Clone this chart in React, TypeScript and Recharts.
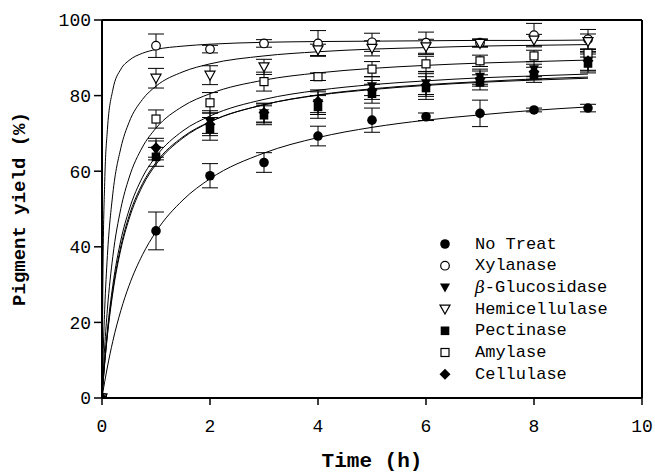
import React from 'react';
import {
  ComposedChart,
  Line,
  Scatter,
  XAxis,
  YAxis,
  ErrorBar,
  ReferenceLine,
} from 'recharts';

// measured points (h)
const hours = [0, 1, 2, 3, 4, 5, 6, 7, 8, 9];

const noTreat = [0, 44.2, 58.8, 62.3, 69.3, 73.5, 74.4, 75.3, 76.2, 76.7];
const noTreatErr = [0, 5, 3.2, 2.6, 2.6, 3.2, 1, 3.5, 0.5, 1];
const xylanase = [0, 93.2, 92.3, 93.8, 93.8, 94.1, 94, 94, 96, 94.9];
const xylanaseErr = [0, 3.1, 1, 1, 3.4, 2.4, 2.8, 1, 3.1, 2.6];
const glucosidase = [0, 65.5, 73, 75.3, 78, 82.5, 83.3, 85, 87, 89];
const glucosidaseErr = [0, 2.5, 3, 2.5, 3, 2.5, 3, 2, 2, 2.5];
const hemicellulase = [0, 84.6, 85.4, 87.6, 92.1, 92.5, 92.9, 93.8, 94.7, 94.3];
const hemicellulaseErr = [0, 2.6, 2.5, 2, 1.5, 2, 2, 1, 1.5, 2];
const pectinase = [0, 63.8, 71.2, 74.8, 77, 80.5, 82, 83.5, 85.5, 88.5];
const pectinaseErr = [0, 2.5, 3, 2.5, 3, 2.5, 3, 2, 2, 2.5];
const amylase = [0, 73.8, 78.1, 83.7, 85, 87, 88.4, 89.2, 90.5, 91.2];
const amylaseErr = [0, 2.4, 2.7, 2.5, 1, 2, 2, 1.5, 1.5, 1];
const cellulase = [0, 66.2, 72.4, 75.5, 78.5, 81.5, 82.8, 84.5, 86.3, 89.2];
const cellulaseErr = [0, 2.5, 3, 2.5, 3, 2.5, 3, 2, 2, 2.5];

// fitted curves
const fitHours = [0, 0.02, 0.05, 0.1, 0.2, 0.35, 0.5, 0.75, 1, 1.5, 2, 3, 4, 5, 6, 7, 8, 9];
const fitNoTreat = [0, 1.8, 4.3, 8.2, 15, 23.2, 29.7, 37.9, 44, 52.4, 58, 64.8, 68.9, 71.6, 73.5, 74.9, 76.1, 77];
const fitXylanase = [0, 36, 57, 71, 81.5, 87, 89.3, 91.2, 92.2, 93.1, 93.6, 94.1, 94.3, 94.4, 94.5, 94.6, 94.6, 94.7];
const fitGlucosidase = [0, 4.3, 9.9, 17.9, 29.8, 41.8, 49.7, 58.4, 63.9, 70.7, 74.6, 79, 81.4, 82.9, 83.9, 84.7, 85.2, 85.7];
const fitHemicellulase = [0, 11, 23.5, 37.7, 54, 66.2, 72.9, 79, 82.5, 86.3, 88.4, 90.5, 91.6, 92.3, 92.7, 93.1, 93.3, 93.5];
const fitPectinase = [0, 4, 9.4, 17, 28.5, 40.2, 48.1, 56.7, 62.3, 69.1, 73.1, 77.6, 80.1, 81.6, 82.7, 83.5, 84.1, 84.6];
const fitAmylase = [0, 5.9, 13.5, 23.5, 37.4, 50.2, 58.2, 66.4, 71.4, 77.2, 80.5, 84.1, 86, 87.2, 88, 88.6, 89, 89.4];
const fitCellulase = [0, 3.9, 9.1, 16.5, 27.8, 39.4, 47.3, 56.1, 61.8, 68.8, 73, 77.6, 80.2, 81.8, 82.9, 83.7, 84.4, 84.9];

const xTicks = [0, 2, 4, 6, 8, 10];
const yTicks = [0, 20, 40, 60, 80, 100];

const MONO = '"Liberation Mono", "Courier New", monospace';

type Kind = 'circle' | 'ocircle' | 'tri' | 'otri' | 'square' | 'osquare' | 'diamond';

const Marker = ({ cx, cy, kind }: { cx: number; cy: number; kind: Kind }) => {
  const s = 1.2;
  switch (kind) {
    case 'circle':
      return <circle cx={cx} cy={cy} r={4.8} fill="#000" />;
    case 'ocircle':
      return <circle cx={cx} cy={cy} r={4.3} fill="#fff" stroke="#000" strokeWidth={s} />;
    case 'tri':
      return <polygon points={`${cx - 5},${cy - 4} ${cx + 5},${cy - 4} ${cx},${cy + 5}`} fill="#000" />;
    case 'otri':
      return (
        <polygon
          points={`${cx - 5},${cy - 4} ${cx + 5},${cy - 4} ${cx},${cy + 5}`}
          fill="#fff"
          stroke="#000"
          strokeWidth={s}
        />
      );
    case 'square':
      return <rect x={cx - 4.3} y={cy - 4.3} width={8.6} height={8.6} fill="#000" />;
    case 'osquare':
      return <rect x={cx - 4} y={cy - 4} width={8} height={8} fill="#fff" stroke="#000" strokeWidth={s} />;
    case 'diamond':
      return <polygon points={`${cx},${cy - 5.5} ${cx + 5.5},${cy} ${cx},${cy + 5.5} ${cx - 5.5},${cy}`} fill="#000" />;
  }
  return null;
};

const series: { name: string; kind: Kind; vals: number[]; err: number[]; fit: number[] }[] = [
  { name: 'No Treat', kind: 'circle', vals: noTreat, err: noTreatErr, fit: fitNoTreat },
  { name: 'Xylanase', kind: 'ocircle', vals: xylanase, err: xylanaseErr, fit: fitXylanase },
  { name: 'β-Glucosidase', kind: 'tri', vals: glucosidase, err: glucosidaseErr, fit: fitGlucosidase },
  { name: 'Hemicellulase', kind: 'otri', vals: hemicellulase, err: hemicellulaseErr, fit: fitHemicellulase },
  { name: 'Pectinase', kind: 'square', vals: pectinase, err: pectinaseErr, fit: fitPectinase },
  { name: 'Amylase', kind: 'osquare', vals: amylase, err: amylaseErr, fit: fitAmylase },
  { name: 'Cellulase', kind: 'diamond', vals: cellulase, err: cellulaseErr, fit: fitCellulase },
];

const YTitle = (props: any) => {
  const vb = props.viewBox;
  const x = vb.x + 20;
  const y = vb.y + vb.height / 2;
  return (
    <text
      x={x}
      y={y}
      transform={`rotate(-90, ${x}, ${y})`}
      textAnchor="middle"
      dominantBaseline="central"
      fontFamily={MONO}
      fontWeight="bold"
      fontSize={19}
      fill="#000"
    >
      Pigment yield (%)
    </text>
  );
};

const XTitle = (props: any) => {
  const vb = props.viewBox;
  return (
    <text
      x={vb.x + vb.width / 2}
      y={467}
      textAnchor="middle"
      fontFamily={MONO}
      fontWeight="bold"
      fontSize={21}
      fill="#000"
    >
      Time (h)
    </text>
  );
};

const Legend = () => (
  <svg width={655} height={472} style={{ position: 'absolute', left: 0, top: 0, pointerEvents: 'none' }}>
    {series.map((s, i) => {
      const y = 244 + i * 21.7;
      return (
        <g key={s.name}>
          <Marker cx={445} cy={y} kind={s.kind} />
          <text x={475} y={y} dominantBaseline="central" fontFamily={MONO} fontSize={17} fill="#000">
            {s.name.startsWith('β') ? (
              <>
                <tspan fontFamily='"DejaVu Serif", serif' fontStyle="italic">
                  β
                </tspan>
                {s.name.slice(1)}
              </>
            ) : (
              s.name
            )}
          </text>
        </g>
      );
    })}
  </svg>
);

export default function App() {
  return (
    <div style={{ position: 'absolute', left: 0, top: 0, width: 655, height: 472, background: '#fff' }}>
      <ComposedChart width={655} height={472} margin={{ top: 20, right: 13, left: 0, bottom: 0 }}>
        <XAxis
          type="number"
          dataKey="x"
          domain={[0, 10]}
          ticks={xTicks}
          allowDataOverflow
          height={74}
          axisLine={{ stroke: '#000', strokeWidth: 2 }}
          tickLine={{ stroke: '#000', strokeWidth: 1.5 }}
          tickSize={7}
          tickMargin={14}
          tick={{ fill: '#000', fontFamily: MONO, fontSize: 18 }}
          label={<XTitle />}
        />
        <YAxis
          type="number"
          domain={[0, 100]}
          ticks={yTicks}
          allowDataOverflow
          width={102}
          axisLine={{ stroke: '#000', strokeWidth: 2 }}
          tickLine={{ stroke: '#000', strokeWidth: 1.5 }}
          tickSize={8}
          tickMargin={3}
          tick={{ fill: '#000', fontFamily: MONO, fontSize: 18 }}
          label={<YTitle />}
        />
        <ReferenceLine y={100} stroke="#000" strokeWidth={2} />
        <ReferenceLine x={10} stroke="#000" strokeWidth={2} />
        {series.map((s) => (
          <Line
            key={'fit-' + s.name}
            data={fitHours.map((h, i) => ({ x: h, y: s.fit[i] }))}
            dataKey="y"
            type="monotone"
            stroke="#000"
            strokeWidth={1}
            dot={false}
            activeDot={false}
            isAnimationActive={false}
          />
        ))}
        {series.map((s) => (
          <Scatter
            key={'pts-' + s.name}
            name={s.name}
            data={hours.map((h, i) => ({ x: h, y: s.vals[i], e: s.err[i] }))}
            dataKey="y"
            isAnimationActive={false}
            shape={(p: any) => <Marker cx={p.cx} cy={p.cy} kind={s.kind} />}
          >
            <ErrorBar dataKey="e" direction="y" width={8} stroke="#000" strokeWidth={1} />
          </Scatter>
        ))}
      </ComposedChart>
      <Legend />
    </div>
  );
}
